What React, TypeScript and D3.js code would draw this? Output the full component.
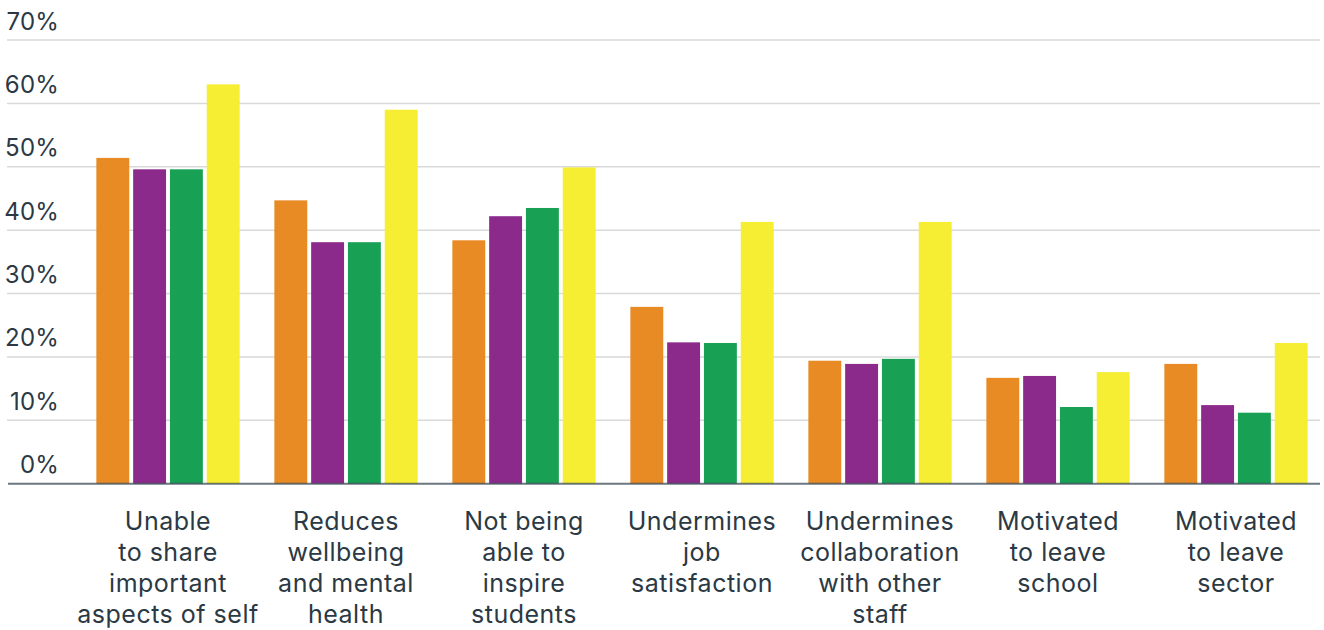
import React from "react";
import * as d3 from "d3";

// Category labels, one entry per wrapped line
const categories: string[][] = [
  ["Unable", "to share", "important", "aspects of self"],
  ["Reduces", "wellbeing", "and mental", "health"],
  ["Not being", "able to", "inspire", "students"],
  ["Undermines", "job", "satisfaction"],
  ["Undermines", "collaboration", "with other", "staff"],
  ["Motivated", "to leave", "school"],
  ["Motivated", "to leave", "sector"],
];

const seriesKeys = ["s1", "s2", "s3", "s4"];
const seriesColors = ["#E88B25", "#8B2A8B", "#18A054", "#F5EE33"];

// Percentages per series, in category order
const s1Values = [51.4, 44.7, 38.4, 27.9, 19.4, 16.7, 18.9];
const s2Values = [49.6, 38.1, 42.2, 22.3, 18.9, 17.0, 12.4];
const s3Values = [49.6, 38.1, 43.5, 22.2, 19.7, 12.1, 11.2];
const s4Values = [63.0, 59.0, 49.9, 41.3, 41.3, 17.6, 22.2];

const yTicks = [0, 10, 20, 30, 40, 50, 60, 70];

const W = 1324;
const H = 630;
const FONT = "Inter, 'Noto Sans', sans-serif";
const TEXT = "#2b3944";

export default function App() {
  const series = [s1Values, s2Values, s3Values, s4Values];
  const keys = categories.map((_, i) => String(i));

  const y = d3.scaleLinear().domain([0, 70]).range([483.7, 40]);
  const x0 = d3
    .scaleBand<string>()
    .domain(keys)
    .range([79, 1325])
    .paddingInner(0.195)
    .paddingOuter(0.0975);
  const x1 = d3
    .scaleBand<string>()
    .domain(seriesKeys)
    .range([0, x0.bandwidth()])
    .paddingInner(0.106)
    .paddingOuter(0);

  const gridLeft = 7;
  const gridRight = 1320;

  return (
    <svg
      width={W}
      height={H}
      style={{ position: "absolute", left: 0, top: 0, background: "#fff" }}
    >
      {/* horizontal gridlines and y tick labels */}
      {yTicks.map((t) => (
        <g key={t}>
          {t > 0 && (
            <line
              x1={gridLeft}
              x2={gridRight}
              y1={y(t)}
              y2={y(t)}
              stroke="#d9d9d9"
              strokeWidth={1.5}
            />
          )}
          <text
            x={59}
            y={y(t) - 10.5}
            textAnchor="end"
            fontFamily={FONT}
            fontSize={24}
            letterSpacing={0.2}
            fill={TEXT}
          >
            {`${t}%`}
          </text>
        </g>
      ))}

      {/* grouped bars */}
      {keys.map((k, ci) => (
        <g key={k} transform={`translate(${x0(k)},0)`}>
          {seriesKeys.map((sk, si) => {
            const v = series[si][ci];
            return (
              <rect
                key={sk}
                x={x1(sk)}
                y={y(v)}
                width={x1.bandwidth()}
                height={y(0) - y(v)}
                fill={seriesColors[si]}
              />
            );
          })}
        </g>
      ))}

      {/* baseline */}
      <line
        x1={8}
        x2={gridRight}
        y1={y(0)}
        y2={y(0)}
        stroke="#3c4a55"
        strokeOpacity={0.75}
        strokeWidth={2}
      />

      {/* category labels */}
      {keys.map((k, ci) => {
        const cx = (x0(k) as number) + x0.bandwidth() / 2;
        return (
          <text
            key={k}
            textAnchor="middle"
            fontFamily={FONT}
            fontSize={25}
            letterSpacing={0.5}
            fill={TEXT}
          >
            {categories[ci].map((line, li) => (
              <tspan key={li} x={cx} y={530 + li * 31}>
                {line}
              </tspan>
            ))}
          </text>
        );
      })}
    </svg>
  );
}
